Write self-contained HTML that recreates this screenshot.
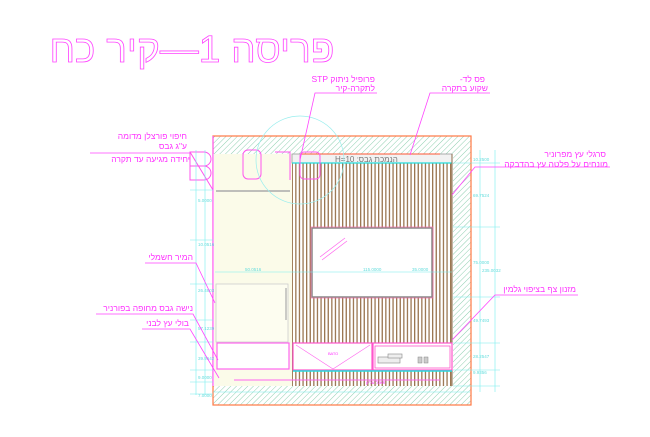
<!DOCTYPE html>
<html><head><meta charset="utf-8"><style>
html,body{margin:0;padding:0;background:#fff;}
svg{display:block;}
.l{font-family:"Liberation Sans","Noto Sans CJK JP",sans-serif;font-size:8.5px;fill:#ff33ff;}
.d{font-family:"Liberation Sans",sans-serif;font-size:4.5px;fill:#66dddd;}
</style></head><body>
<svg width="650" height="437" viewBox="0 0 650 437" xmlns="http://www.w3.org/2000/svg">
<defs>
<pattern id="h" width="4" height="4" patternUnits="userSpaceOnUse" patternTransform="rotate(45)">
<rect width="4" height="4" fill="#fff"/><line x1="0" y1="0" x2="0" y2="4" stroke="#8fcfb0" stroke-width="1"/>
</pattern>
<pattern id="s" width="3.6" height="10" patternUnits="userSpaceOnUse">
<rect width="3.6" height="10" fill="#fff"/><rect x="0" width="1.3" height="10" fill="#9a7650"/>
</pattern>
</defs>
<!-- title -->
<text x="192" y="62" direction="rtl" text-anchor="middle" textLength="285" lengthAdjust="spacingAndGlyphs" font-family="'Liberation Sans','Noto Sans CJK JP',sans-serif" font-size="38" fill="none" stroke="#ff44ff" stroke-width="0.8">פריסה 1—קיר כח</text>

<!-- wall -->
<rect x="213" y="136" width="258" height="269" fill="url(#h)" stroke="#ff7744" stroke-width="1.2"/>
<rect x="213" y="154" width="240" height="232" fill="#fff"/>
<rect x="214" y="154" width="78" height="232" fill="#fbfbe9"/>
<rect x="292" y="163" width="160" height="223" fill="url(#s)"/>
<rect x="292" y="154" width="160" height="9" fill="#f2f2f2" stroke="#999" stroke-width="0.8"/>
<line x1="292" y1="163" x2="452" y2="163" stroke="#22dddd" stroke-width="1.2"/>
<line x1="300" y1="154" x2="440" y2="154" stroke="#ff5533" stroke-width="1"/>
<text x="335" y="162" font-family="'Liberation Sans','Noto Sans CJK JP',sans-serif" font-size="8" fill="#777">H=10 :הנמכת גבס</text>
<line x1="452" y1="154" x2="452" y2="386" stroke="#8a6a48" stroke-width="1"/>
<line x1="213" y1="136" x2="213" y2="386" stroke="#ff44ff" stroke-width="1"/>

<!-- left panel details -->
<line x1="216" y1="191" x2="290" y2="191" stroke="#aaa" stroke-width="1.5"/>
<rect x="216" y="284" width="72" height="58" fill="#fdfdf0" stroke="#ccc" stroke-width="0.8"/>
<line x1="286" y1="288" x2="286" y2="320" stroke="#aaa" stroke-width="1.2"/>
<rect x="217" y="343" width="72" height="26" fill="#fff" stroke="#ff66ee" stroke-width="1.2"/>
<line x1="234" y1="380" x2="440" y2="380" stroke="#ff66ee" stroke-width="1"/>

<!-- TV -->
<rect x="312" y="228" width="120" height="69" fill="#fff" stroke="#888" stroke-width="1.5"/>
<rect x="311" y="227" width="122" height="71" fill="none" stroke="#ff66aa" stroke-width="0.6"/>
<line x1="320" y1="257" x2="345" y2="238" stroke="#ff66ee" stroke-width="0.7"/>
<line x1="322" y1="260" x2="347" y2="241" stroke="#ff66ee" stroke-width="0.7"/>

<!-- bottom cabinets -->
<rect x="293" y="343" width="79" height="27" fill="#fff" stroke="#ff55cc" stroke-width="1.2"/>
<rect x="373" y="343" width="79" height="27" fill="#fff" stroke="#ff55cc" stroke-width="1.2"/>
<rect x="375" y="346" width="75" height="22" fill="none" stroke="#ff55cc" stroke-width="0.8"/>
<polyline points="296,345 333,369 370,345" fill="none" stroke="#ff66ee" stroke-width="0.6"/>
<text x="328" y="355" font-size="4" fill="#ff33ff" font-family="Liberation Sans">ВАТО</text>
<rect x="378" y="357" width="22" height="6" fill="#eee" stroke="#888" stroke-width="0.6"/>
<rect x="388" y="354" width="14" height="4" fill="#eee" stroke="#888" stroke-width="0.6"/>
<rect x="418" y="357" width="4" height="6" fill="#ccc" stroke="#888" stroke-width="0.5"/>
<rect x="424" y="357" width="4" height="6" fill="#ccc" stroke="#888" stroke-width="0.5"/>
<line x1="293" y1="371" x2="452" y2="371" stroke="#22dddd" stroke-width="1.5"/>
<text x="366" y="384" font-size="4.5" fill="#ff33ff" font-family="Liberation Sans">פאנל עליון</text>

<!-- pink BKD outlines -->
<path d="M190,152 h14 a7,7 0 0 1 0,14 h-14 z M190,166 h14 a7,7 0 0 1 0,14 h-14 z" fill="none" stroke="#ff55ee" stroke-width="1"/>
<line x1="190" y1="152" x2="213" y2="190" stroke="#ff55ee" stroke-width="1"/>
<rect x="243" y="150" width="18" height="29" rx="5" fill="none" stroke="#ff55ee" stroke-width="1"/>
<path d="M275,152 h15 v28" fill="none" stroke="#ff55ee" stroke-width="1"/>
<rect x="300" y="152" width="20" height="27" rx="4" fill="none" stroke="#ff55ee" stroke-width="1"/>
<circle cx="300" cy="160" r="44" fill="none" stroke="#99eeee" stroke-width="0.7"/>

<!-- dimension lines -->
<g stroke="#77eeee" stroke-width="0.6" fill="none">
<line x1="196" y1="150" x2="196" y2="395"/><line x1="205" y1="150" x2="205" y2="395"/>
<line x1="480" y1="150" x2="480" y2="392"/><line x1="495" y1="150" x2="495" y2="392"/>
<line x1="190" y1="190" x2="213" y2="190"/><line x1="190" y1="240" x2="213" y2="240"/>
<line x1="190" y1="284" x2="213" y2="284"/><line x1="190" y1="320" x2="213" y2="320"/>
<line x1="190" y1="342" x2="213" y2="342"/><line x1="190" y1="370" x2="213" y2="370"/>
<line x1="190" y1="382" x2="213" y2="382"/><line x1="190" y1="394" x2="213" y2="394"/>
<line x1="453" y1="163" x2="500" y2="163"/><line x1="453" y1="227" x2="500" y2="227"/>
<line x1="453" y1="297" x2="500" y2="297"/><line x1="453" y1="343" x2="500" y2="343"/>
<line x1="453" y1="370" x2="500" y2="370"/><line x1="453" y1="386" x2="500" y2="386"/>
<line x1="215" y1="272" x2="452" y2="272"/>
<line x1="213" y1="392" x2="470" y2="392"/>
</g>
<g class="d">
<text x="198" y="202">5.0000</text><text x="198" y="246">10.0516</text><text x="198" y="292">26.4903</text>
<text x="198" y="330">57.1239</text><text x="198" y="360">39.9642</text><text x="198" y="379">9.0000</text>
<text x="198" y="397">7.0000</text>
<text x="473" y="161">10.2500</text><text x="473" y="197">69.7524</text><text x="473" y="264">75.0000</text>
<text x="482" y="272">235.0032</text><text x="473" y="322">49.7493</text><text x="473" y="358">28.2547</text>
<text x="473" y="374">9.9356</text>
<text x="245" y="271">50.0516</text><text x="363" y="271">115.0000</text><text x="412" y="271">35.0000</text>
</g>

<!-- leaders -->
<g stroke="#ff44ff" stroke-width="0.8" fill="none">
<polyline points="377,93 315,93 300,160"/>
<polyline points="490,93 430,93 410,155"/>
<polyline points="90,153 190,153"/>
<polyline points="610,167 475,167 452,195"/>
<polyline points="578,295 495,295 452,340"/>
<polyline points="145,263 196,263 215,303"/>
<polyline points="96,314 193,314 218,360"/>
<polyline points="142,329 190,329 219,378"/>
</g>
<g class="l" direction="rtl" text-anchor="start">
<text x="375" y="82">פרופיל ניתוק STP</text>
<text x="375" y="91">לתקרה-קיר</text>
<text x="485" y="82">פס לד-</text>
<text x="488" y="91">שקוע בתקרה</text>
<text x="187" y="139">חיפוי פורצלן מדומה</text>
<text x="187" y="149">ע"ג גבס</text>
<text x="190" y="162">יחידה מגיעה עד תקרה</text>
<text x="606" y="157">סרגלי עץ מפרוניר</text>
<text x="608" y="167">מונחים על פלטה עץ בהדבקה</text>
<text x="576" y="292">מזנון צף בציפוי גלמין</text>
<text x="193" y="260">המיר חשמלי</text>
<text x="193" y="311">נישה גבס מחופה בפורניר</text>
<text x="189" y="326">בולי עץ לבני</text>
</g>
</svg>
</body></html>
